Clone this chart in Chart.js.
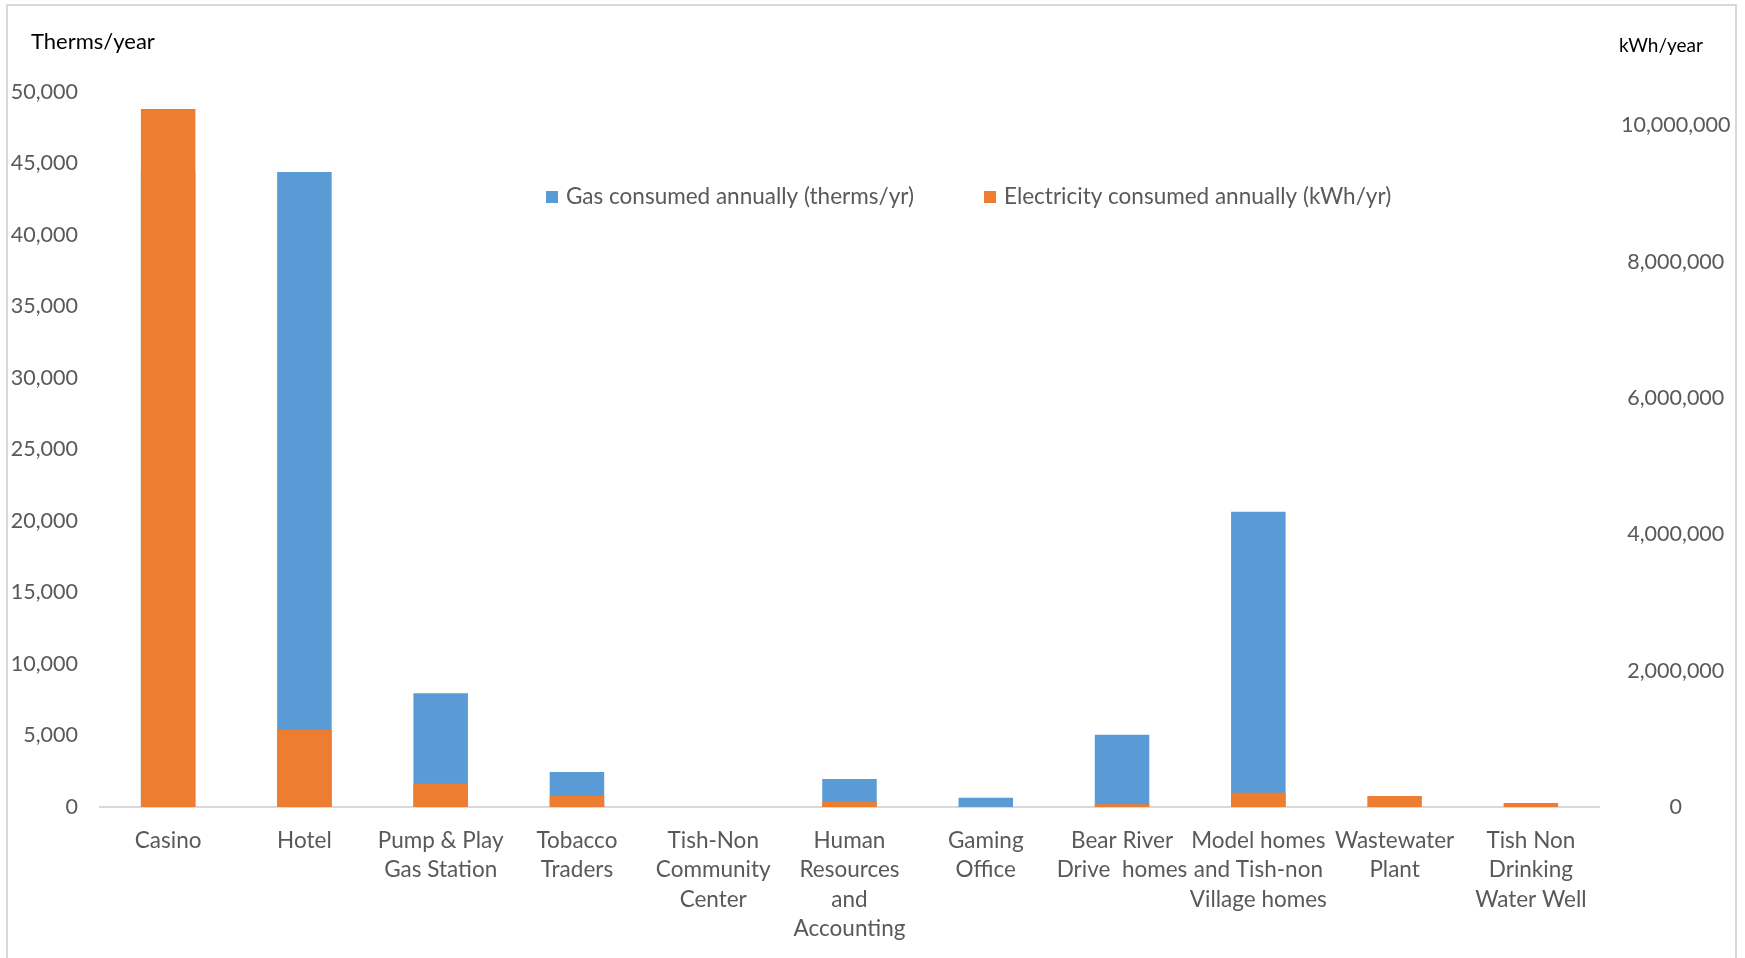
<!DOCTYPE html>
<html>
<head>
<meta charset="utf-8">
<script src="https://cdn.jsdelivr.net/npm/chart.js@4.4.0/dist/chart.umd.min.js"></script>
<style>
  body { margin: 0; background: #fff; }
  #wrap { position: relative; width: 1745px; height: 958px; overflow: hidden; }
  #frame { position: absolute; left: 6px; top: 4px; width: 1727px; height: 960px; border: 2px solid #d9d9d9; pointer-events: none; }
</style>
</head>
<body>
<div id="wrap">
  <canvas id="chart" width="1745" height="958"></canvas>
  <div id="frame"></div>
</div>
<script>
// נתונים
const categories = [
    'Casino',
    'Hotel',
    ['Pump & Play', 'Gas Station'],
    ['Tobacco', 'Traders'],
    ['Tish-Non', 'Community', 'Center'],
    ['Human', 'Resources', 'and', 'Accounting'],
    ['Gaming', 'Office'],
    ['Bear River', 'Drive  homes'],
    ['Model homes', 'and Tish-non', 'Village homes'],
    ['Wastewater', 'Plant'],
    ['Tish Non', 'Drinking', 'Water Well']
];
const gasTherms = [44400, 44400, 7950, 2450, 0, 1950, 650, 5050, 20650, 0, 0];
const electricityKwh = [10240000, 1130000, 340000, 170000, 0, 80000, 0, 40000, 210000, 160000, 60000];
const leftTicks = { min: 0, max: 50000, step: 5000 };
const rightTickValues = [0, 2000000, 4000000, 6000000, 8000000, 10000000];
const rightMax = 10490000;

const BLUE = '#5B9BD5';
const ORANGE = '#ED7D31';
const GRAY_TEXT = '#595959';
const FONT = 'Lato';

// כותרות צירים ומקרא
const extrasPlugin = {
    id: 'extras',
    afterDraw(chart) {
        const ctx = chart.ctx;
        ctx.save();
        ctx.textBaseline = 'middle';
        ctx.textAlign = 'left';
        ctx.fillStyle = '#000';
        ctx.font = `22px ${FONT}`;
        ctx.fillText('Therms/year', 31, 42);
        ctx.font = `19px ${FONT}`;
        ctx.fillText('kWh/year', 1619, 46);

        // מקרא
        const items = [chart.data.datasets[1], chart.data.datasets[0]];
        const xs = [546, 984];
        ctx.font = `22.5px ${FONT}`;
        items.forEach((ds, i) => {
            ctx.fillStyle = ds.backgroundColor;
            ctx.fillRect(xs[i], 191, 12, 12);
            ctx.fillStyle = GRAY_TEXT;
            ctx.fillText(ds.label, xs[i] + 20, 197);
        });
        ctx.restore();
    }
};

new Chart(document.getElementById('chart').getContext('2d'), {
    type: 'bar',
    data: {
        labels: categories,
        datasets: [
            {
                label: 'Electricity consumed annually (kWh/yr)',
                data: electricityKwh,
                backgroundColor: ORANGE,
                yAxisID: 'y1',
                grouped: false,
                order: 1
            },
            {
                label: 'Gas consumed annually (therms/yr)',
                data: gasTherms,
                backgroundColor: BLUE,
                yAxisID: 'y',
                grouped: false,
                order: 2
            }
        ]
    },
    options: {
        responsive: false,
        devicePixelRatio: 1,
        animation: false,
        layout: { padding: { top: 92, left: 0, right: 0, bottom: 0 } },
        datasets: {
            bar: { barPercentage: 0.40, categoryPercentage: 1.0 }
        },
        plugins: {
            legend: { display: false },
            tooltip: { enabled: false }
        },
        scales: {
            x: {
                grid: { display: false, drawTicks: false },
                border: { display: true, color: '#d9d9d9', width: 2 },
                ticks: {
                    color: GRAY_TEXT,
                    font: { family: FONT, size: 22.5, lineHeight: 1.31 },
                    padding: 19,
                    maxRotation: 0,
                    autoSkip: false
                },
                afterFit: (scale) => { scale.height = 151; }
            },
            y: {
                position: 'left',
                min: leftTicks.min,
                max: leftTicks.max,
                grid: { display: false, drawTicks: false },
                border: { display: false },
                ticks: {
                    stepSize: leftTicks.step,
                    color: GRAY_TEXT,
                    font: { family: FONT, size: 21.5 },
                    padding: 22
                },
                afterFit: (scale) => { scale.width = 100; }
            },
            y1: {
                position: 'right',
                min: 0,
                max: rightMax,
                grid: { display: false, drawTicks: false },
                border: { display: false },
                ticks: {
                    color: GRAY_TEXT,
                    font: { family: FONT, size: 21.5 },
                    padding: 22,
                    crossAlign: 'center'
                },
                afterBuildTicks: (scale) => {
                    scale.ticks = rightTickValues.map(v => ({ value: v }));
                },
                afterFit: (scale) => { scale.width = 146; }
            }
        }
    },
    plugins: [extrasPlugin]
});
</script>
</body>
</html>
